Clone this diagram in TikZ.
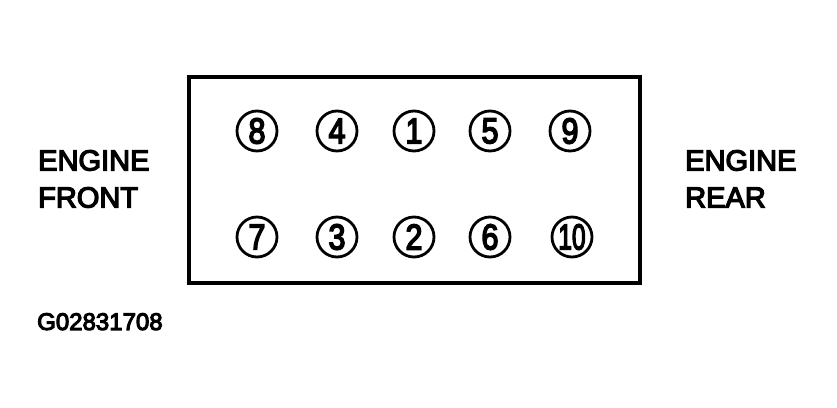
\documentclass[tikz,border=0pt]{standalone}
\usepackage{fontspec}
\setmainfont{Liberation Sans}
\newfontfamily\heavyfont{Liberation Sans}[FakeBold=4.5]
\usepackage{graphicx}
\usetikzlibrary{positioning}

\tikzset{
  bolt/.style={circle, draw, line width=2.8pt, minimum size=40pt, inner sep=0pt,
    font=\heavyfont\fontsize{36}{36}\selectfont},
  label/.style={align=left, inner sep=0pt, font=\heavyfont\fontsize{29}{37}\selectfont},
}

\begin{document}
\begin{tikzpicture}[x=1pt, y=-1pt]
\useasboundingbox (0,0) rectangle (837,407);

% cylinder head outline
\draw [line width=3.5pt] (189,77) rectangle (640,283);

% top row
\node[bolt] (c8) at (257,131) {\scalebox{0.85}[1]{8}};
\node[bolt] (c4) at (337,131) {\scalebox{0.85}[1]{4}};
\node[bolt] (c1) at (414,131) {\scalebox{0.85}[1]{1}};
\node[bolt] (c5) at (490,131) {\scalebox{0.85}[1]{5}};
\node[bolt] (c9) at (570,131) {\scalebox{0.85}[1]{9}};

% bottom row
\node[bolt] (c7) at (257,237) {\scalebox{0.85}[1]{7}};
\node[bolt] (c3) at (337,237) {\scalebox{0.85}[1]{3}};
\node[bolt] (c2) at (414,237) {\scalebox{0.85}[1]{2}};
\node[bolt] (c6) at (490,237) {\scalebox{0.85}[1]{6}};
\node[bolt] (c10) at (572,237) {\scalebox{0.68}[1]{10}};

\node[label, anchor=north west] (front) at (38,150) {ENGINE\\FRONT};
\node[label, anchor=north west] (rear) at (685,150) {ENGINE\\REAR};

\node[inner sep=0pt, anchor=north west, font=\heavyfont\fontsize{24}{24}\selectfont] (code) at (37,313) {G02831708};

\end{tikzpicture}
\end{document}
